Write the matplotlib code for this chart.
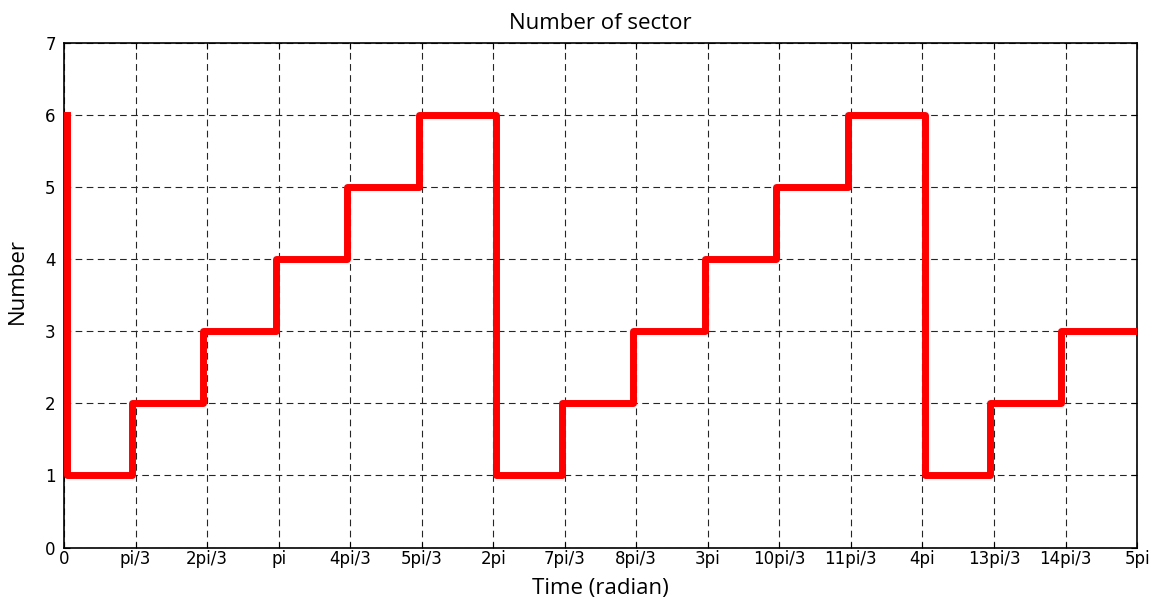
import numpy as np
import matplotlib
matplotlib.use("Agg")
import matplotlib.pyplot as plt

switch_times = [0.04, 0.04, 1.00, 2.04, 3.10, 4.15, 5.19, 6.33, 7.29, 8.33,
                9.38, 10.43, 11.47, 12.60, 13.56, 14.60, 15.71]
sector = [6, 1, 2, 3, 4, 5, 6, 1, 2, 3, 4, 5, 6, 1, 2, 3, 3]

tick_steps = list(range(16))  # multiples of pi/3
tick_labels = ['0', 'pi/3', '2pi/3', 'pi', '4pi/3', '5pi/3', '2pi', '7pi/3',
               '8pi/3', '3pi', '10pi/3', '11pi/3', '4pi', '13pi/3', '14pi/3', '5pi']
y_ticks = [0, 1, 2, 3, 4, 5, 6, 7]

fig = plt.figure(figsize=(11.63, 6.03), dpi=100)
ax = fig.add_axes([0.0550, 0.0920, 0.9227, 0.8367])

ax.plot(switch_times, sector, drawstyle='steps-post', color='red', lw=5,
        solid_joinstyle='round', zorder=3)

ax.set_xlim(0, 5 * np.pi)
ax.set_ylim(0, 7)
ax.set_xticks([k * np.pi / 3 for k in tick_steps])
ax.set_xticklabels(tick_labels)
ax.set_yticks(y_ticks)

ax.grid(True, color='0.15', linestyle=(0, (6, 4)), linewidth=0.8)
ax.tick_params(direction='in', top=True, right=True, length=4, width=0.8,
               labelsize=12)
ax.tick_params(axis='x', pad=2)
ax.tick_params(axis='y', pad=6)
for s in ax.spines.values():
    s.set_linewidth(1.2)

for lab in ax.get_xticklabels() + ax.get_yticklabels():
    lab.set_family('DejaVu Sans')

ax.set_title('Number of sector', fontsize=16, family='Open Sans', pad=10)
ax.set_xlabel('Time (radian)', fontsize=16, family='Open Sans', va='center')
ax.set_ylabel('Number', fontsize=16, family='Open Sans', va='center')
ax.xaxis.set_label_coords(0.5, -0.082)
ax.yaxis.set_label_coords(-0.043, 0.528)

fig.savefig('out.png', dpi=100)
